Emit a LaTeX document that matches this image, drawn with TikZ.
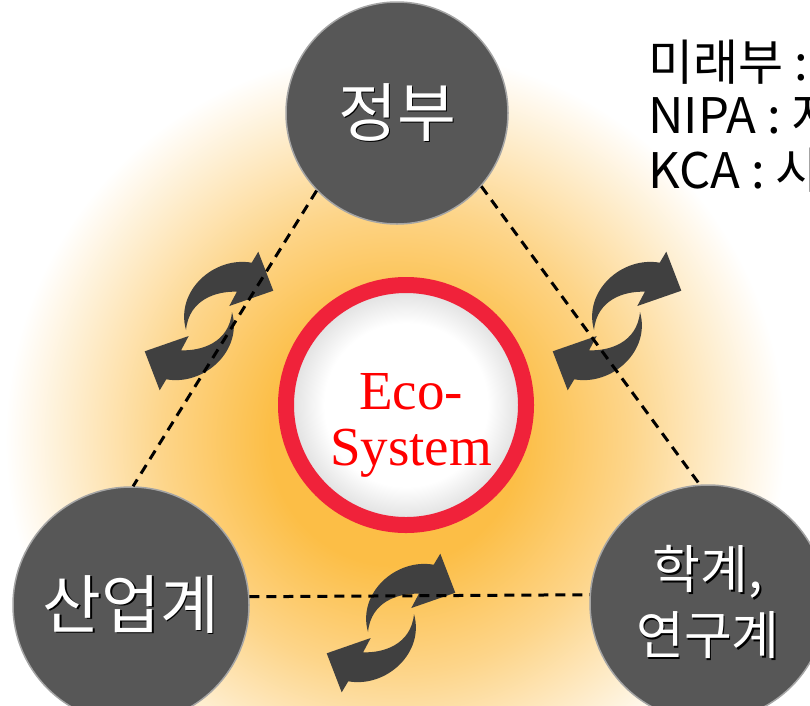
\documentclass[tikz,border=0pt]{standalone}
\usepackage{fontspec}
\setmainfont{Liberation Serif}
\newfontfamily\kofont{Noto Sans CJK KR}
\definecolor{glowA}{RGB}{252,190,70}
\definecolor{glowB}{RGB}{253,213,138}
\definecolor{ecored}{RGB}{240,34,58}
\definecolor{discgray}{RGB}{87,87,87}
\definecolor{rimgray}{RGB}{165,165,165}
\definecolor{arrowgray}{RGB}{64,64,64}
\definecolor{rimwhite}{RGB}{220,220,220}
\pgfdeclareradialshading{glow}{\pgfpoint{0bp}{0bp}}{color(0bp)=(glowA); color(8bp)=(glowA); color(15bp)=(glowB); color(25bp)=(white); color(50bp)=(white)}
\pgfdeclareradialshading{ecofill}{\pgfpoint{0bp}{0bp}}{color(0bp)=(white); color(17bp)=(white); color(25bp)=(rimwhite); color(50bp)=(rimwhite)}
\newcommand\shadowed[1]{\makebox[0pt][l]{\hspace{1.5pt}\raisebox{-1.5pt}{\color{black}#1}}#1}
\tikzset{
  disc/.style={circle, fill=discgray, draw=rimgray, line width=1.5pt, text=white,
    font=\kofont\fontsize{64}{70}\selectfont, align=center},
  link/.style={line width=3pt, dash pattern=on 10pt off 7pt},
  cycarrow/.style={fill=arrowgray},
  memo/.style={anchor=base west, font=\kofont\fontsize{49}{54}\selectfont}
}

\begin{document}
\begin{tikzpicture}[x=1pt,y=-1pt]
\useasboundingbox (0,0) rectangle (810,705);
\clip (0,0) rectangle (810,705);
\shade[shading=glow] (395,440) circle [radius=390];

\node[disc, minimum size=222pt] (gov) at (397,113) {\shadowed{정부}};
\node[disc, minimum size=236pt] (ind) at (131,605) {\shadowed{산업계}};
\node[disc, minimum size=236pt, font=\kofont\fontsize{52}{66}\selectfont] (acad) at (708,603)
  {\shadowed{학계,}\\\shadowed{연구계}};

% cycle icons
\foreach \px/\py in {209/321, 617/321, 391/623}{
  \begin{scope}[shift={(\px,\py)},yscale=-1]
    \fill[cycarrow] (-23,-9) .. controls (-34,30) and (5,65) .. (42.7,58.3)
        -- (49.3,69.3) -- (64.3,30.3) -- (20.3,15) -- (27.9,29.3)
        .. controls (8,30) and (-20,22) .. cycle;
    \fill[cycarrow,rotate=180] (-23,-9) .. controls (-34,30) and (5,65) .. (42.7,58.3)
        -- (49.3,69.3) -- (64.3,30.3) -- (20.3,15) -- (27.9,29.3)
        .. controls (8,30) and (-20,22) .. cycle;
  \end{scope}
}

% dashed triangle
\draw[link] (gov.224) -- (ind.89);
\draw[link] (gov.319) -- (acad.94);
\draw[link] (ind.4) -- (acad.176);

% centre
\node[circle, draw=ecored, line width=16pt, shade, shading=ecofill, minimum size=240pt] (eco) at (406,405) {};
\node[font=\fontsize{55}{56}\selectfont, text=red, align=center] (ecotext) at (411,425) {Eco-\\System};

\node[memo] (mirae) at (645,80) {미래부 :};
\node[memo] (nipa) at (645,133) {NIPA : 지};
\node[memo] (kca) at (645,188) {KCA : 시};
\end{tikzpicture}
\end{document}
